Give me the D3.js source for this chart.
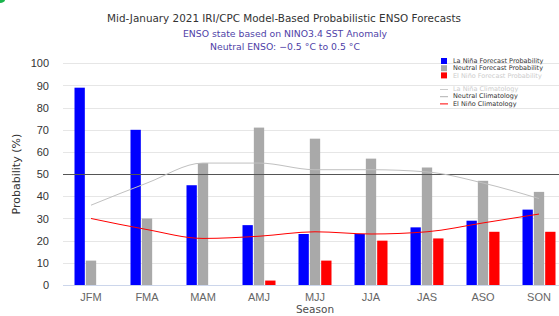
<!DOCTYPE html>
<html lang="en">
<head>
  <meta charset="UTF-8">
  <title>ENSO Forecasts</title>
  <style type="text/css">
    body{
      margin: 0;
      background: #fff;
      font-family: "DejaVu Sans", sans-serif;
    }
    .grid line{
      stroke: #e6e6e6;
      stroke-width: 1px;
    }
    .axis text{
      font-size: 11px;
    }
    .axis path,
    .axis line{
      display: none;
    }
  </style>
  <script type="text/javascript" src="https://d3js.org/d3.v7.min.js"></script>
</head>
<body>
<script type="text/javascript">
  var seasons = ['JFM', 'FMA', 'MAM', 'AMJ', 'MJJ', 'JJA', 'JAS', 'ASO', 'SON'];
  var laNina = [89, 70, 45, 27, 23, 23, 26, 29, 34];
  var neutral = [11, 30, 55, 71, 66, 57, 53, 47, 42];
  var elNino = [0, 0, 0, 2, 11, 20, 21, 24, 24];
  var neutralClim = [36, 46, 55, 55, 52, 52, 51, 46, 39];
  var elNinoClim = [30, 25, 21, 22, 24, 23, 24, 28, 32];
  var yTicks = [0, 10, 20, 30, 40, 50, 60, 70, 80, 90, 100];

  var width = 559, height = 316;
  var margin = {top: 63, left: 63, bottom: 31};
  var plotRight = 567;

  var svg = d3.select('body')
    .append('svg')
    .attr('width', width)
    .attr('height', height);

  // little green blob in the corner of the screenshot
  svg.append('ellipse')
    .attr('cx', 0).attr('cy', 0).attr('rx', 5).attr('ry', 3)
    .style('fill', '#19b44b');

  var xScale = d3.scaleBand()
    .domain(seasons)
    .range([margin.left, plotRight]);

  var x1 = d3.scaleBand()
    .domain(['laNina', 'neutral', 'elNino'])
    .range([-16.5, 16.5])
    .paddingInner(0.09);

  var yScale = d3.scaleLinear()
    .domain([0, 100])
    .range([height - margin.bottom, margin.top + 0.3]);

  // grid
  svg.append('g')
    .attr('class', 'grid')
    .selectAll('line')
    .data(yTicks.slice(1))
    .enter().append('line')
    .attr('x1', margin.left)
    .attr('x2', width)
    .attr('y1', function(d){ return Math.round(yScale(d)) + 0.5; })
    .attr('y2', function(d){ return Math.round(yScale(d)) + 0.5; });

  // axis line at zero
  svg.append('line')
    .attr('x1', margin.left).attr('x2', width)
    .attr('y1', Math.round(yScale(0)) + 0.5)
    .attr('y2', Math.round(yScale(0)) + 0.5)
    .style('stroke', '#ccd6eb');

  // y axis labels
  var yAxis = d3.axisLeft(yScale)
    .tickValues(yTicks)
    .tickSize(0)
    .tickPadding(14);

  svg.append('g')
    .attr('class', 'y axis')
    .attr('transform', 'translate(' + margin.left + ',0)')
    .call(yAxis)
    .selectAll('text')
    .style('fill', '#333');

  // x axis labels
  var xAxis = d3.axisBottom(xScale)
    .tickSize(0)
    .tickPadding(8);

  svg.append('g')
    .attr('class', 'x axis')
    .attr('transform', 'translate(0,' + yScale(0) + ')')
    .call(xAxis)
    .selectAll('text')
    .style('fill', '#666');

  // bars
  var series = [
    {key: 'laNina', values: laNina, color: '#0000ff'},
    {key: 'neutral', values: neutral, color: '#a9a9a9'},
    {key: 'elNino', values: elNino, color: '#ff0000'}
  ];

  series.forEach(function(s){
    svg.append('g')
      .selectAll('rect')
      .data(s.values)
      .enter().append('rect')
      .attr('x', function(d, i){ return xScale(seasons[i]) + xScale.bandwidth() / 2 + x1(s.key); })
      .attr('width', x1.bandwidth())
      .attr('y', function(d){ return yScale(d); })
      .attr('height', function(d){ return yScale(0) - yScale(d); })
      .style('fill', s.color);
  });

  // 50% reference line
  svg.append('line')
    .attr('x1', margin.left).attr('x2', width)
    .attr('y1', Math.round(yScale(50)) + 0.5)
    .attr('y2', Math.round(yScale(50)) + 0.5)
    .style('stroke', '#555')
    .style('stroke-width', 1);

  // climatology lines
  var line = d3.line()
    .x(function(d, i){ return xScale(seasons[i]) + xScale.bandwidth() / 2; })
    .y(function(d){ return yScale(d); })
    .curve(d3.curveMonotoneX);

  svg.append('path')
    .datum(neutralClim)
    .attr('d', line)
    .style('fill', 'none')
    .style('stroke', '#c0c0c0')
    .style('stroke-width', 1);

  svg.append('path')
    .datum(elNinoClim)
    .attr('d', line)
    .style('fill', 'none')
    .style('stroke', '#ff0000')
    .style('stroke-width', 1);

  // titles
  svg.append('text')
    .attr('x', 284).attr('y', 22)
    .attr('text-anchor', 'middle')
    .style('font-size', '10.4px')
    .style('fill', '#333')
    .text('Mid-January 2021 IRI/CPC Model-Based Probabilistic ENSO Forecasts');

  svg.append('text')
    .attr('x', 285).attr('y', 37)
    .attr('text-anchor', 'middle')
    .style('font-size', '9.3px')
    .style('fill', '#4f3fa8')
    .text('ENSO state based on NINO3.4 SST Anomaly');

  svg.append('text')
    .attr('x', 285).attr('y', 50)
    .attr('text-anchor', 'middle')
    .style('font-size', '9.3px')
    .style('fill', '#4f3fa8')
    .text('Neutral ENSO: \u22120.5 \u00B0C to 0.5 \u00B0C');

  svg.append('text')
    .attr('transform', 'translate(20,' + yScale(50) + ') rotate(-90)')
    .attr('text-anchor', 'middle')
    .style('font-size', '11px')
    .style('fill', '#333')
    .text('Probability (%)');

  svg.append('text')
    .attr('x', (margin.left + plotRight) / 2).attr('y', 313)
    .attr('text-anchor', 'middle')
    .style('font-size', '10.5px')
    .style('fill', '#4d4d4d')
    .text('Season');

  // legend
  var legendItems = [
    {name: 'La Ni\u00F1a Forecast Probability', type: 'rect', color: '#0000ff', text: '#333'},
    {name: 'Neutral Forecast Probability', type: 'rect', color: '#a9a9a9', text: '#333'},
    {name: 'El Ni\u00F1o Forecast Probability', type: 'rect', color: '#ff0000', text: '#ccc'},
    {name: 'La Ni\u00F1a Climatology', type: 'line', color: '#ccc', text: '#ccc'},
    {name: 'Neutral Climatology', type: 'line', color: '#b0b0b0', text: '#333'},
    {name: 'El Ni\u00F1o Climatology', type: 'line', color: '#ff0000', text: '#333'}
  ];

  var legend = svg.selectAll('.legend')
    .data(legendItems)
    .enter().append('g')
    .attr('class', 'legend')
    .attr('transform', function(d, i){
      return 'translate(441,' + (61 + i * 7.2 + (i > 2 ? 6.4 : 0)) + ')';
    });

  legend.filter(function(d){ return d.type === 'rect'; })
    .append('rect')
    .attr('x', 0).attr('y', -3)
    .attr('width', 6).attr('height', 6)
    .style('fill', function(d){ return d.color; });

  legend.filter(function(d){ return d.type === 'line'; })
    .append('line')
    .attr('x1', -1).attr('x2', 7)
    .attr('y1', 0.5).attr('y2', 0.5)
    .style('stroke', function(d){ return d.color; });

  legend.append('text')
    .attr('x', 12)
    .attr('y', 0)
    .attr('dy', '.35em')
    .style('font-size', '6.5px')
    .style('fill', function(d){ return d.text; })
    .text(function(d){ return d.name; });
</script>
</body>
</html>
